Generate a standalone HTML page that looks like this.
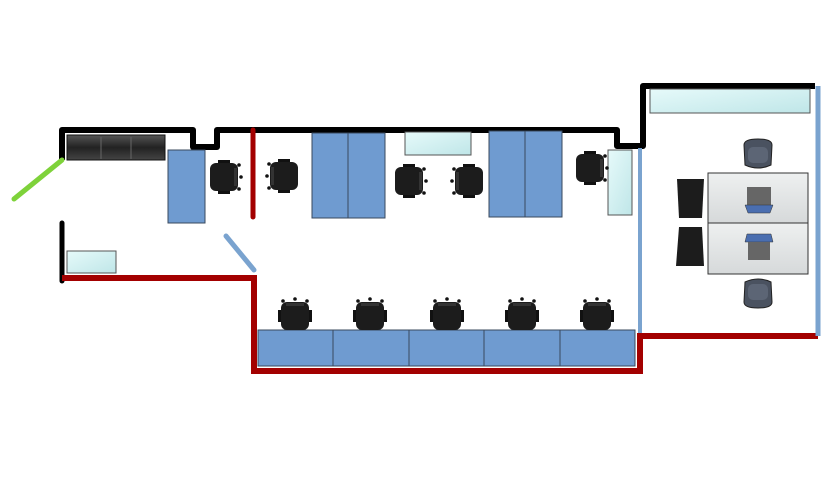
<!DOCTYPE html>
<html><head><meta charset="utf-8"><style>html,body{margin:0;padding:0;background:#fff}svg{display:block}</style></head>
<body>
<svg width="835" height="482" viewBox="0 0 835 482" xmlns="http://www.w3.org/2000/svg">
<defs>
<linearGradient id="gl" x1="0" y1="0" x2="1" y2="1"><stop offset="0" stop-color="#e6fafa"/><stop offset="1" stop-color="#bfe6e8"/></linearGradient>
<linearGradient id="sofa" x1="0" y1="0" x2="0" y2="1"><stop offset="0" stop-color="#555"/><stop offset="0.5" stop-color="#222"/><stop offset="1" stop-color="#444"/></linearGradient>
<linearGradient id="tb" x1="0" y1="0" x2="0" y2="1"><stop offset="0" stop-color="#eef0f0"/><stop offset="1" stop-color="#d6d9da"/></linearGradient>
<g id="ch"><rect x="-14" y="-14" width="28" height="28" rx="6" fill="#1c1c1c"/><rect x="-17" y="-6" width="3" height="12" fill="#111"/><rect x="14" y="-6" width="3" height="12" fill="#111"/><circle cx="-12" cy="-15" r="1.8" fill="#111"/><circle cx="12" cy="-15" r="1.8" fill="#111"/><circle cx="0" cy="-17" r="1.8" fill="#111"/><rect x="-9" y="-13" width="18" height="3" fill="#333"/></g>
<g id="rc"><path d="M-14,-10 Q-14,-16 0,-16 Q14,-16 14,-10 L13,10 Q0,16 -13,10 Z" fill="#4a5260" stroke="#222"/><rect x="-10" y="-8" width="20" height="16" rx="5" fill="#5c6575"/></g>
</defs>
<!-- walls -->
<polyline points="62,160 62,130 193,130 193,147 217,147 217,130 617,130 617,146 643,146 643,86 815,86" fill="none" stroke="#000" stroke-width="6" stroke-linejoin="round"/>
<line x1="62" y1="160" x2="14" y2="199" stroke="#7ed23a" stroke-width="5" stroke-linecap="round"/>
<line x1="62" y1="223" x2="62" y2="281" stroke="#000" stroke-width="5" stroke-linecap="round"/>
<polyline points="62,278 254,278 254,371 640,371 640,336 818,336" fill="none" stroke="#a30000" stroke-width="6"/>
<line x1="253" y1="130" x2="253" y2="217" stroke="#a30000" stroke-width="5" stroke-linecap="round"/>
<line x1="226" y1="236" x2="254" y2="270" stroke="#7aa3cf" stroke-width="5" stroke-linecap="round"/>
<line x1="640" y1="148" x2="640" y2="333" stroke="#7aa3cf" stroke-width="4"/>
<line x1="818" y1="86" x2="818" y2="336" stroke="#7aa3cf" stroke-width="5"/>
<!-- sofa -->
<rect x="67" y="135" width="98" height="25" fill="url(#sofa)" stroke="#111"/>
<line x1="101" y1="137" x2="101" y2="159" stroke="#666"/><line x1="131" y1="137" x2="131" y2="159" stroke="#666"/>
<!-- desks -->
<g fill="#6f9bd0" stroke="#3a4a5e" stroke-width="1">
<rect x="168" y="150" width="37" height="73"/>
<rect x="312" y="133" width="36" height="85"/><rect x="348" y="133" width="37" height="85"/>
<rect x="489" y="131" width="36" height="86"/><rect x="525" y="131" width="37" height="86"/>
<rect x="258" y="330" width="75" height="36"/><rect x="333" y="330" width="76" height="36"/><rect x="409" y="330" width="75" height="36"/><rect x="484" y="330" width="76" height="36"/><rect x="560" y="330" width="75" height="36"/>
</g>
<!-- glass -->
<g fill="url(#gl)" stroke="#555">
<rect x="405" y="132" width="66" height="23"/>
<rect x="608" y="150" width="24" height="65"/>
<rect x="650" y="89" width="160" height="24"/>
<rect x="67" y="251" width="49" height="22"/>
</g>
<!-- chairs -->
<use href="#ch" transform="translate(224,177) rotate(90)"/>
<use href="#ch" transform="translate(284,176) rotate(-90)"/>
<use href="#ch" transform="translate(409,181) rotate(90)"/>
<use href="#ch" transform="translate(469,181) rotate(-90)"/>
<use href="#ch" transform="translate(590,168) rotate(90)"/>
<use href="#ch" transform="translate(295,316)"/>
<use href="#ch" transform="translate(370,316)"/>
<use href="#ch" transform="translate(447,316)"/>
<use href="#ch" transform="translate(522,316)"/>
<use href="#ch" transform="translate(597,316)"/>
<!-- meeting room -->
<rect x="708" y="173" width="100" height="50" fill="url(#tb)" stroke="#333"/>
<rect x="708" y="223" width="100" height="51" fill="url(#tb)" stroke="#333"/>
<path d="M677,179 L704,179 L702,218 L679,218 Z" fill="#1c1c1c"/>
<path d="M679,227 L702,227 L704,266 L676,266 Z" fill="#1c1c1c"/>
<use href="#rc" transform="translate(758,155)"/>
<use href="#rc" transform="translate(758,292) rotate(180)"/>
<rect x="747" y="187" width="24" height="18" fill="#666"/><path d="M745,205 L773,205 L770,213 L748,213 Z" fill="#4a6eb0" stroke="#333" stroke-width="0.5"/>
<path d="M747,234 L771,234 L773,242 L745,242 Z" fill="#4a6eb0" stroke="#333" stroke-width="0.5"/><rect x="748" y="242" width="22" height="18" fill="#666"/>
</svg>
</body></html>
